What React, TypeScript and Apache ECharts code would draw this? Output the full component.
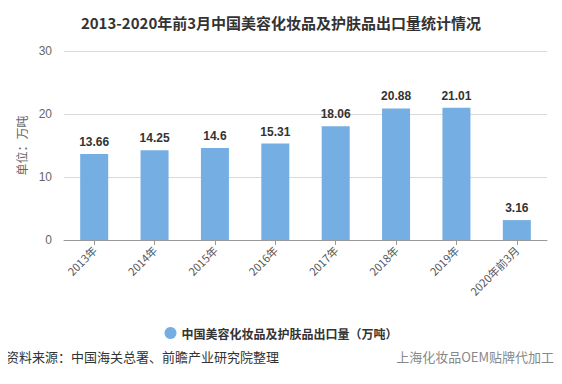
import React, { useEffect, useRef } from "react";
import * as echarts from "echarts";

const categories = ["2013年", "2014年", "2015年", "2016年", "2017年", "2018年", "2019年", "2020年前3月"];
const values = [13.66, 14.25, 14.6, 15.31, 18.06, 20.88, 21.01, 3.16];
const seriesName = "中国美容化妆品及护肤品出口量（万吨）";
const titleText = "2013-2020年前3月中国美容化妆品及护肤品出口量统计情况";
const sourceText = "资料来源：中国海关总署、前瞻产业研究院整理";

export default function App() {
  const ref = useRef<HTMLDivElement>(null);
  useEffect(() => {
    const chart = echarts.init(ref.current!, null, { renderer: "svg" });
    chart.setOption({
      animation: false,
      backgroundColor: "#fff",
      title: {
        text: titleText,
        left: "center",
        top: 10,
        textStyle: { fontSize: 15, fontWeight: "bold", color: "#333", fontFamily: "Noto Sans CJK SC" },
      },
      grid: { left: 64, right: 15, top: 51, bottom: 144 },
      legend: {
        data: [seriesName],
        top: 322,
        left: "center",
        icon: "circle",
        itemWidth: 12,
        itemHeight: 12,
        textStyle: { fontSize: 12, fontWeight: "bold", color: "#333", fontFamily: "Noto Sans CJK SC" },
      },
      xAxis: {
        type: "category",
        data: categories,
        axisLine: { lineStyle: { color: "#999" } },
        axisTick: { show: true, alignWithLabel: true, lineStyle: { color: "#999" } },
        axisLabel: { rotate: 45, color: "#555", fontSize: 11, margin: 8, fontFamily: "Noto Sans CJK SC" },
      },
      yAxis: {
        type: "value",
        min: 0,
        max: 30,
        interval: 10,
        name: "单位：万吨",
        nameLocation: "middle",
        nameGap: 32,
        nameTextStyle: { color: "#666", fontSize: 12, fontFamily: "Noto Sans CJK SC" },
        axisLine: { show: false },
        axisTick: { show: false },
        axisLabel: { color: "#666", fontSize: 12, margin: 12 },
        splitLine: { lineStyle: { color: "#d9d9d9" } },
      },
      series: [
        {
          name: seriesName,
          type: "bar",
          data: values,
          barWidth: 28,
          itemStyle: { color: "#74aee3" },
          label: {
            show: true,
            position: "top",
            distance: 6,
            color: "#333",
            fontWeight: "bold",
            fontSize: 12,
          },
        },
      ],
      graphic: [
        {
          type: "text",
          left: 6,
          top: 350,
          style: { text: sourceText, fontSize: 13, fill: "#333", fontFamily: "Noto Sans CJK SC" },
        },
        {
          type: "text",
          right: 8,
          top: 350,
          style: { text: "上海化妆品OEM贴牌代加工", fontSize: 13, fill: "#888", fontFamily: "Noto Sans CJK SC" },
        },
      ],
    });
    return () => chart.dispose();
  }, []);
  return <div ref={ref} style={{ width: 562, height: 384, margin: -8 }} />;
}
